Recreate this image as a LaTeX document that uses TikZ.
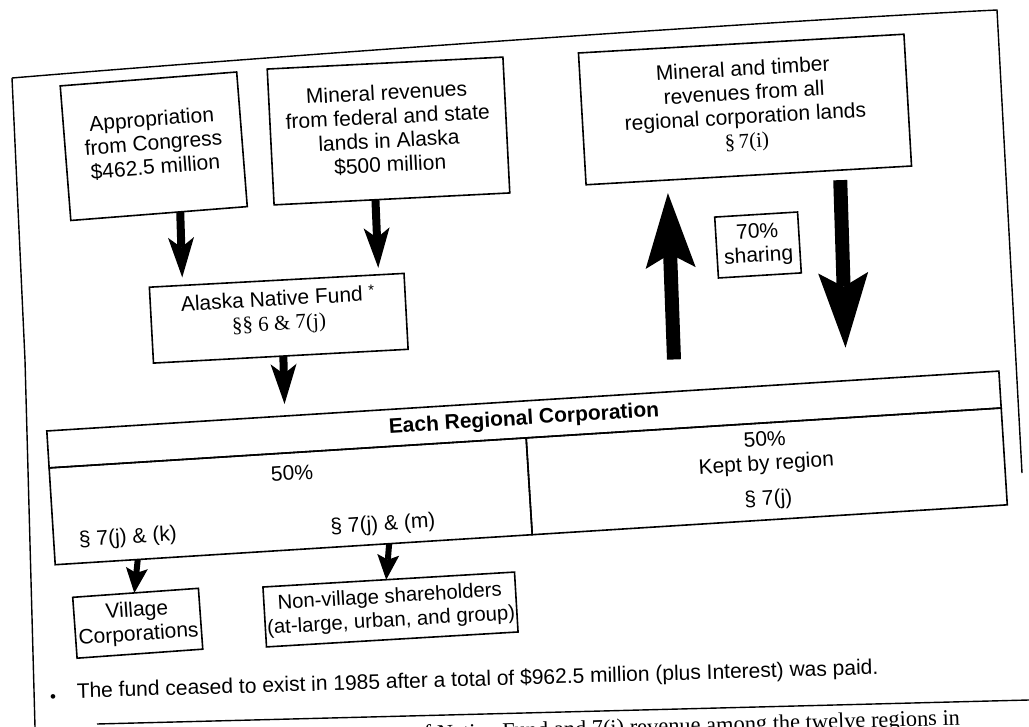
\documentclass[tikz,border=0pt]{standalone}
\usepackage{fontspec}
\setmainfont{Liberation Sans}
\newfontfamily\serf{Liberation Serif}
\usetikzlibrary{arrows.meta,calc}
\begin{document}
\begin{tikzpicture}[x=1pt,y=-1pt,
  font=\fontsize{21}{24}\selectfont,
  box/.style={draw,line width=1.6pt,align=center,inner sep=0pt,outer sep=0pt},
  frameline/.style={line width=1.4pt},
  txt/.style={inner sep=0pt,outer sep=0pt,align=center},
  arrS/.style={line width=8pt,-{Stealth[length=40pt,width=26pt,inset=10pt,line width=0pt]}},
  arrT/.style={line width=6pt,-{Stealth[length=25pt,width=22pt,inset=5pt,line width=0pt]}},
  arrB/.style={line width=14pt,-{Stealth[length=75pt,width=50pt,inset=14pt,line width=0pt]}}]
\useasboundingbox (0,0) rectangle (1029,727);
\clip (0,0) rectangle (1029,727);
\fill[white] (0,0) rectangle (1029,727);
% page frame
\draw[frameline] (12,78) .. controls (250,58) and (750,22) .. (997,10) -- (1022,473);
\draw[frameline] (12,78) -- (25,360) -- (35,727);
% source boxes
\node[box,rotate=4.5,minimum width=177pt,minimum height=135pt] (app) at (153.75,146.25)
  {Appropriation\\from Congress\\\$462.5 million\\[-16.5pt]};
\node[box,rotate=2.9,minimum width=236pt,minimum height=136pt] (min) at (388.5,131)
  {Mineral revenues\\from federal and state\\lands in Alaska\\\$500 million\\[-18.5pt]};
\node[box,rotate=3.1,minimum width=255pt,minimum height=76pt] (fund) at (278.75,318.25)
  {Alaska Native Fund {\fontsize{15}{15}\selectfont\raisebox{6pt}{*}}\\{\serf\S\S\ 6 \& 7(j)}\\[-7pt]};
\node[box,rotate=3.3,minimum width=326pt,minimum height=132pt] (tim) at (745,109.5)
  {Mineral and timber\\revenues from all\\regional corporation lands\\{\serf\S\,7(i)}\\[-13.5pt]};
\node[box,rotate=3.5,minimum width=83pt,minimum height=61pt] (share) at (758,245)
  {70\%\\sharing};
% regional corporation table
\node[box,rotate=3.6,minimum width=954pt,minimum height=37pt,
  font=\fontsize{21}{24}\selectfont\bfseries] (title) at (524,419.5) {Each Regional Corporation};
\node[box,rotate=3.6,anchor=north west,minimum width=478pt,minimum height=97pt] (lcell) at (title.south west) {};
\node[box,rotate=3.6,anchor=north east,minimum width=476pt,minimum height=97pt] (rcell) at (title.south east)
  {50\%\\Kept by region\\[11pt]\S\ 7(j)\\[-18pt]};
\node[txt,rotate=3.6] (l50) at (292,473) {50\%};
\node[txt,rotate=3.6] (lk) at (128,538) {\S\ 7(j) \& (k)};
\node[txt,rotate=3.6] (lm) at (383,525) {\S\ 7(j) \& (m)};
% recipients
\node[box,rotate=4.1,minimum width=126pt,minimum height=61pt] (vil) at (137.75,623.25)
  {Village\\Corporations};
\node[box,rotate=3.4,minimum width=252pt,minimum height=60pt,font=\fontsize{20.3}{24}\selectfont] (nonv) at (390.5,609.5)
  {Non-village shareholders\\(at-large, urban, and group)};
% connectors
\draw[arrS,shorten >=8pt] ($(app.south west)!0.62!(app.south east)$) -- ($(fund.north west)!0.13!(fund.north east)$);
\draw[arrS,shorten >=7pt] ($(min.south west)!0.43!(min.south east)$) -- ($(fund.north west)!0.9!(fund.north east)$);
\draw[arrS,shorten >=12pt] ($(fund.south west)!0.51!(fund.south east)$) -- ($(title.north west)!0.25!(title.north east)$);
\draw[arrT] ($(lcell.south west)!0.173!(lcell.south east)$) -- ($(vil.north west)!0.49!(vil.north east)$);
\draw[arrT] ($(lcell.south west)!0.70!(lcell.south east)$) -- ($(nonv.north west)!0.49!(nonv.north east)$);
\draw[arrB,shorten <=32pt,shorten >=13pt] ($(title.north west)!0.66!(title.north east)$) -- ($(tim.south west)!0.25!(tim.south east)$);
\draw[arrB,shorten <=10pt,shorten >=33pt] ($(tim.south west)!0.78!(tim.south east)$) -- ($(title.north west)!0.84!(title.north east)$);
% footnote
\node[txt,font=\fontsize{17}{17}\selectfont] (bul) at (53,699) {•};
\node[txt,anchor=base west,rotate=1.7] (fn) at (77,698)
  {The fund ceased to exist in 1985 after a total of \$962.5 million (plus Interest) was paid.};
\draw[frameline] (97,724) -- (1029,700);
\node[txt,anchor=base west,rotate=1.7,font=\fontsize{22.4}{24}\selectfont\serf] (body) at (413,741)
  {of Native Fund and 7(i) revenue among the twelve regions in};
\end{tikzpicture}
\end{document}
